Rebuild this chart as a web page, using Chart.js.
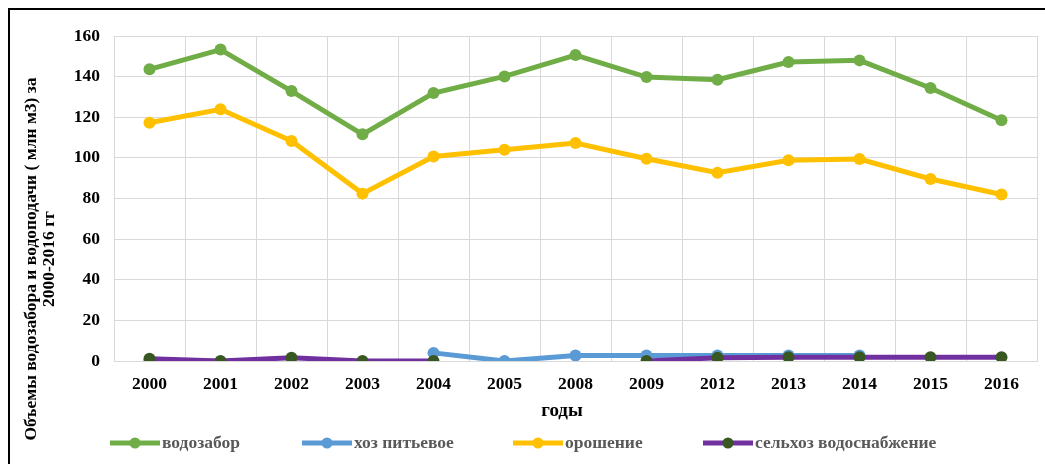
<!DOCTYPE html>
<html>
<head>
<meta charset="utf-8">
<script src="https://cdn.jsdelivr.net/npm/chart.js@4"></script>
<style>
  body { margin: 0; background: #fff; overflow: hidden; }
  #wrap { position: relative; width: 1045px; height: 464px; }
  #frame { position: absolute; left: 8px; top: 8px; width: 2000px; height: 1000px;
           border-top: 2px solid #000; border-left: 2px solid #000; pointer-events: none; }
</style>
</head>
<body>
<div id="wrap">
  <canvas id="myChart" width="1045" height="464"></canvas>
  <div id="frame"></div>
</div>
<script>
// data
const years = ['2000', '2001', '2002', '2003', '2004', '2005', '2008', '2009', '2012', '2013', '2014', '2015', '2016'];
const vodozabor = [143.6, 153.3, 132.9, 111.6, 131.9, 140.1, 150.6, 139.8, 138.5, 147.2, 148.0, 134.4, 118.5];
const khozPitevoe = [0, null, null, null, 4.0, 0, 2.7, 2.7, 2.7, 2.7, 2.7, null, null];
const oroshenie = [117.3, 123.9, 108.3, 82.4, 100.7, 104.0, 107.3, 99.6, 92.7, 98.8, 99.4, 89.6, 82.0];
const selkhoz = [1.1, 0, 1.6, 0, 0, null, null, 0, 1.6, 1.9, 1.9, 1.9, 1.9];
const yTicks = [0, 20, 40, 60, 80, 100, 120, 140, 160];

const seriesNames = ['водозабор', 'хоз питьевое', 'орошение', 'сельхоз водоснабжение'];
const yTitle = ['Объемы водозабора и водоподачи ( млн м3) за', '2000-2016 гг'];
const xTitle = 'годы';

const serif = '"Liberation Serif", "Times New Roman", serif';

function series(label, data, color, pointColor, order) {
    return {
        label: label,
        data: data,
        borderColor: color,
        backgroundColor: pointColor,
        pointBackgroundColor: pointColor,
        pointBorderColor: pointColor,
        borderWidth: 5,
        pointRadius: 6,
        pointBorderWidth: 0,
        spanGaps: false,
        order: order
    };
}

// axis titles and legend are drawn by hand to sit where the original has them
const extras = {
    id: 'extras',
    afterDraw(chart) {
        const ctx = chart.ctx;
        ctx.save();
        ctx.fillStyle = '#000';
        ctx.font = 'bold 17.5px ' + serif;
        ctx.textAlign = 'center';
        ctx.textBaseline = 'middle';
        ctx.translate(40, 259);
        ctx.rotate(-Math.PI / 2);
        ctx.fillText(yTitle[0], 0, -9);
        ctx.fillText(yTitle[1], 0, 9);
        ctx.restore();

        ctx.save();
        ctx.fillStyle = '#000';
        ctx.font = 'bold 19px ' + serif;
        ctx.textAlign = 'center';
        ctx.textBaseline = 'middle';
        ctx.fillText(xTitle, 562, 411);
        ctx.restore();

        const legendX = [110, 302, 513, 703];
        const y = 443;
        chart.data.datasets.forEach((ds, i) => {
            const x = legendX[i];
            ctx.save();
            ctx.strokeStyle = ds.borderColor;
            ctx.lineWidth = 5;
            ctx.beginPath();
            ctx.moveTo(x, y);
            ctx.lineTo(x + 50, y);
            ctx.stroke();
            ctx.fillStyle = ds.pointBackgroundColor;
            ctx.beginPath();
            ctx.arc(x + 25, y, 5.5, 0, Math.PI * 2);
            ctx.fill();
            ctx.fillStyle = '#595959';
            ctx.font = 'bold 17.5px ' + serif;
            ctx.textAlign = 'left';
            ctx.textBaseline = 'middle';
            ctx.fillText(ds.label, x + 52, y);
            ctx.restore();
        });
    }
};

const ctx = document.querySelector('#myChart').getContext('2d');
new Chart(ctx, {
    type: 'line',
    data: {
        labels: years,
        datasets: [
            series(seriesNames[0], vodozabor, '#70AD47', '#70AD47', 4),
            series(seriesNames[1], khozPitevoe, '#5B9BD5', '#5B9BD5', 3),
            series(seriesNames[2], oroshenie, '#FFC000', '#FFC000', 2),
            series(seriesNames[3], selkhoz, '#7030A0', '#385723', 1)
        ]
    },
    options: {
        responsive: false,
        animation: false,
        layout: { padding: { top: 36, right: 8, bottom: 0, left: 0 } },
        plugins: {
            legend: { display: false },
            tooltip: { enabled: false }
        },
        scales: {
            x: {
                offset: true,
                grid: { color: '#d9d9d9', lineWidth: 1, drawTicks: false, offset: true },
                border: { color: '#d9d9d9' },
                ticks: {
                    color: '#000',
                    padding: 13,
                    maxRotation: 0,
                    font: { family: serif, size: 17.5, weight: 'bold' }
                },
                afterFit(scale) { scale.height = 103; }
            },
            y: {
                min: 0,
                max: 160,
                afterBuildTicks(scale) { scale.ticks = yTicks.map(v => ({ value: v })); },
                grid: { color: '#d9d9d9', lineWidth: 1, drawTicks: false },
                border: { color: '#d9d9d9' },
                ticks: {
                    color: '#000',
                    padding: 14,
                    font: { family: serif, size: 17.5, weight: 'bold' }
                },
                afterFit(scale) { scale.width = 114; }
            }
        }
    },
    plugins: [extras]
});
</script>
</body>
</html>
